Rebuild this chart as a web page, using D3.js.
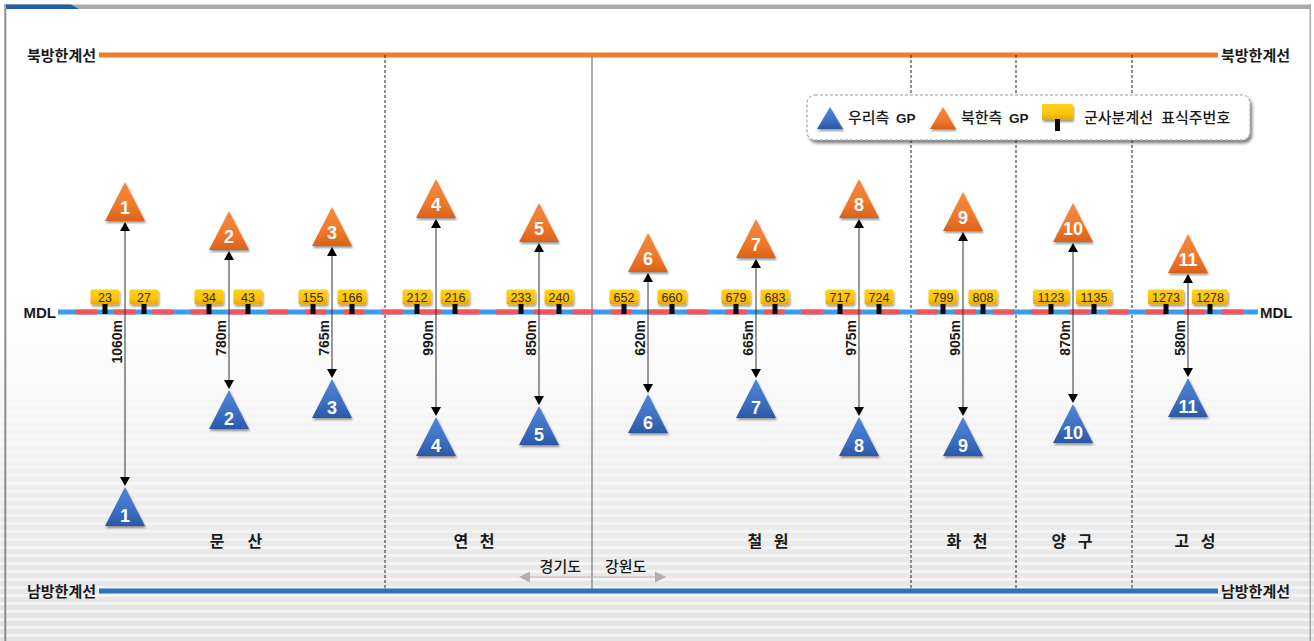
<!DOCTYPE html>
<html lang="ko">
  <head>
    <meta charset="utf-8">
    <script src="https://cdn.jsdelivr.net/npm/d3@7"></script>
    <style>
      html, body { margin: 0; padding: 0; background: #fff; overflow: hidden; }
      svg { display: block; }
      text { font-family: "Noto Sans CJK KR", "Noto Sans", sans-serif; fill: #1a1a1a; }
      .latin { font-family: "Liberation Sans", Arial, sans-serif; }
    </style>
  </head>
  <body>
    <svg id="chart"></svg>
    <script>
      // GP pairs (schematic reach from the MDL, not to scale)
      const gpNumbers = [1, 2, 3, 4, 5, 6, 7, 8, 9, 10, 11];
      const gpAlong = [125, 229, 332, 436, 539, 648, 756, 859, 963, 1073, 1188];
      const gpNorthReach = [91, 62, 66, 94, 70, 40, 54, 94, 81, 70, 39];
      const gpSouthReach = [175, 78, 67, 105, 94, 82, 67, 105, 105, 92, 66];
      const gpDistance = ['1060m', '780m', '765m', '990m', '850m', '620m', '665m', '975m', '905m', '870m', '580m'];

      // MDL marker posts
      const postNumbers = [23, 27, 34, 43, 155, 166, 212, 216, 233, 240, 652, 660, 679, 683, 717, 724, 799, 808, 1123, 1135, 1273, 1278];
      const postAlong = [105, 144, 209, 248, 313, 352, 417, 455, 521, 559, 624, 672, 736, 775, 840, 879, 943, 983, 1051, 1094, 1166, 1210];

      // regions
      const regionNames = ['문  산', '연 천', '철 원', '화 천', '양 구', '고 성'];
      const regionAlong = [236, 474, 768, 967, 1072, 1195];
      const dashedDividers = [385, 911, 1016, 1132];
      const provinceDivider = 592;

      const width = 1314;
      const height = 641;
      const mdlY = 312;
      const triW = 20;
      const triH = 39;

      const x = d3.scaleLinear().domain([0, width]).range([0, width]);
      // positive = north of the MDL, negative = south
      const y = d3.scaleLinear().domain([mdlY, mdlY - height]).range([0, height]);

      const svg = d3.select('#chart').attr('width', width).attr('height', height);
      const defs = svg.append('defs');

      function vGrad(id, stops) {
        const g = defs.append('linearGradient').attr('id', id)
          .attr('x1', 0).attr('y1', 0).attr('x2', 0).attr('y2', 1);
        stops.forEach(s => g.append('stop').attr('offset', s[0]).attr('stop-color', s[1]));
      }
      vGrad('bgGrad', [[0, '#ffffff'], [0.5, '#ffffff'], [0.8, '#ececec'], [1, '#e4e4e4']]);
      vGrad('orangeGrad', [[0, '#f28a3e'], [0.6, '#ee7a2c'], [1, '#dc6118']]);
      vGrad('blueGrad', [[0, '#4f86d6'], [0.6, '#3d6fc2'], [1, '#2c58a6']]);
      vGrad('yellowGrad', [[0, '#ffd11a'], [0.6, '#fcc40a'], [1, '#e8a800']]);

      const shadow = defs.append('filter').attr('id', 'shadow')
        .attr('x', '-20%').attr('y', '-20%').attr('width', '150%').attr('height', '150%');
      shadow.append('feDropShadow').attr('dx', 1).attr('dy', 2).attr('stdDeviation', 1.3)
        .attr('flood-color', '#000').attr('flood-opacity', 0.4);
      const boxShadow = defs.append('filter').attr('id', 'boxShadow')
        .attr('x', '-5%').attr('y', '-20%').attr('width', '110%').attr('height', '150%');
      boxShadow.append('feDropShadow').attr('dx', 2).attr('dy', 3).attr('stdDeviation', 1.6)
        .attr('flood-color', '#000').attr('flood-opacity', 0.5);

      // background with the faint stripes of the slide
      svg.append('rect').attr('width', width).attr('height', height).attr('fill', 'url(#bgGrad)');
      svg.append('g').selectAll('rect')
        .data(d3.range(330, height, 8))
        .join('rect')
        .attr('x', 0).attr('y', d => d).attr('width', width).attr('height', 3)
        .attr('fill', '#fff').attr('opacity', d => 0.15 + 0.45 * (d - 330) / 311);

      // frame
      svg.append('rect').attr('x', 4.3).attr('y', 4).attr('width', 2).attr('height', height - 4).attr('fill', '#8c8c8c');
      svg.append('rect').attr('x', 1309.5).attr('y', 4).attr('width', 1.5).attr('height', height - 4).attr('fill', '#a5a5a5');
      svg.append('rect').attr('x', 5).attr('y', 4.5).attr('width', 1306).attr('height', 4.5).attr('fill', '#ababab');
      svg.append('path').attr('d', 'M6,4.5H71L79,9H6Z').attr('fill', '#1f5fa8');

      // north and south limit lines
      const limits = [
        { label: '북방한계선', at: 55, color: '#f07c2b' },
        { label: '남방한계선', at: 591, color: '#2b74bd' }
      ];
      limits.forEach(l => {
        svg.append('line').attr('x1', 99).attr('x2', 1218).attr('y1', l.at).attr('y2', l.at)
          .attr('stroke', l.color).attr('stroke-width', 5);
        svg.append('text').attr('x', 96).attr('y', l.at + 6).attr('text-anchor', 'end')
          .attr('font-size', 15).attr('font-weight', 700).text(l.label);
        svg.append('text').attr('x', 1221).attr('y', l.at + 6)
          .attr('font-size', 15).attr('font-weight', 700).text(l.label);
      });

      // region dividers
      svg.append('g').selectAll('line')
        .data(dashedDividers)
        .join('line')
        .attr('x1', d => x(d)).attr('x2', d => x(d))
        .attr('y1', 55).attr('y2', 589)
        .attr('stroke', '#222').attr('stroke-width', 1).attr('stroke-dasharray', '3 2');
      svg.append('line').attr('x1', x(provinceDivider)).attr('x2', x(provinceDivider))
        .attr('y1', 55).attr('y2', 589).attr('stroke', '#777').attr('stroke-width', 1.2);

      // MDL band
      svg.append('line').attr('x1', 58).attr('x2', 1258).attr('y1', mdlY).attr('y2', mdlY)
        .attr('stroke', '#3a9bef').attr('stroke-width', 5);
      svg.append('line').attr('x1', 76).attr('x2', 1245).attr('y1', mdlY).attr('y2', mdlY)
        .attr('stroke', '#f6535a').attr('stroke-width', 5).attr('stroke-dasharray', '21 17.2');
      svg.append('text').attr('class', 'latin').attr('x', 56).attr('y', mdlY + 6).attr('text-anchor', 'end')
        .attr('font-size', 15).attr('font-weight', 700).text('MDL');
      svg.append('text').attr('class', 'latin').attr('x', 1260).attr('y', mdlY + 6)
        .attr('font-size', 15).attr('font-weight', 700).text('MDL');

      // marker posts
      const posts = svg.append('g').selectAll('g')
        .data(postNumbers)
        .join('g');
      posts.append('rect')
        .attr('x', (d, i) => x(postAlong[i]) - (d > 999 ? 18 : 14.5))
        .attr('y', 289.5).attr('width', d => d > 999 ? 36 : 29).attr('height', 15).attr('rx', 2)
        .attr('fill', 'url(#yellowGrad)').attr('filter', 'url(#shadow)');
      posts.append('rect')
        .attr('x', (d, i) => x(postAlong[i]) - 2.5)
        .attr('y', 304).attr('width', 5).attr('height', 10).attr('fill', '#0a0a0a');
      posts.append('text').attr('class', 'latin')
        .attr('x', (d, i) => x(postAlong[i])).attr('y', 302)
        .attr('text-anchor', 'middle').attr('font-size', 12.5)
        .style('fill', '#3a2a00')
        .text(d => d);

      function triPath(cx, apex, w, h) {
        return `M${cx},${apex}L${cx + w},${apex + h}L${cx - w},${apex + h}Z`;
      }
      function headPath(cx, tip, dir) {
        return `M${cx},${tip}L${cx + 5},${tip + dir * 9}L${cx - 5},${tip + dir * 9}Z`;
      }

      // GP pairs with the distance arrows
      const pairs = svg.append('g').selectAll('g')
        .data(gpNumbers)
        .join('g');

      pairs.each(function (d, i) {
        const g = d3.select(this);
        const cx = x(gpAlong[i]);
        const northBase = y(gpNorthReach[i]);
        const southApex = y(-gpSouthReach[i]);

        g.append('path').attr('d', triPath(cx, northBase - triH, triW, triH))
          .attr('fill', 'url(#orangeGrad)').attr('filter', 'url(#shadow)');
        g.append('path').attr('d', triPath(cx, southApex, triW, triH))
          .attr('fill', 'url(#blueGrad)').attr('filter', 'url(#shadow)');

        g.append('line').attr('x1', cx).attr('x2', cx)
          .attr('y1', northBase + 8).attr('y2', southApex - 8)
          .attr('stroke', '#333').attr('stroke-width', 1);
        g.append('path').attr('d', headPath(cx, northBase + 1, 1)).attr('fill', '#000');
        g.append('path').attr('d', headPath(cx, southApex - 1, -1)).attr('fill', '#000');

        g.append('text').attr('class', 'latin')
          .attr('x', cx).attr('y', northBase - 7.5)
          .attr('text-anchor', 'middle').attr('font-size', 18).attr('font-weight', 700)
          .style('fill', '#fff').text(d);
        g.append('text').attr('class', 'latin')
          .attr('x', cx).attr('y', southApex + 34.5)
          .attr('text-anchor', 'middle').attr('font-size', 18).attr('font-weight', 700)
          .style('fill', '#fff').text(d);

        g.append('text').attr('class', 'latin')
          .attr('transform', `translate(${cx - 3.5},${y(-8)}) rotate(-90)`)
          .attr('text-anchor', 'end').attr('font-size', 14).attr('font-weight', 700)
          .text(gpDistance[i]);
      });

      // region names
      svg.append('g').selectAll('text')
        .data(regionNames)
        .join('text')
        .attr('x', (d, i) => x(regionAlong[i])).attr('y', 547)
        .attr('text-anchor', 'middle').attr('font-size', 16).attr('font-weight', 700)
        .attr('word-spacing', 7)
        .style('white-space', 'pre')
        .text(d => d);

      // province arrows
      svg.append('text').attr('x', 581).attr('y', 572).attr('text-anchor', 'end')
        .attr('font-size', 15).attr('font-weight', 500).text('경기도');
      svg.append('text').attr('x', 605).attr('y', 572)
        .attr('font-size', 15).attr('font-weight', 500).text('강원도');
      svg.append('line').attr('x1', 528).attr('x2', 658).attr('y1', 577).attr('y2', 577)
        .attr('stroke', '#b5b5b5').attr('stroke-width', 1.2);
      svg.append('path').attr('d', 'M519,577L530,571.5V582.5Z').attr('fill', '#b0b0b0');
      svg.append('path').attr('d', 'M666,577L655,571.5V582.5Z').attr('fill', '#b0b0b0');

      // legend
      const legend = svg.append('g');
      legend.append('rect').attr('x', 807).attr('y', 95).attr('width', 443).attr('height', 45).attr('rx', 8)
        .attr('fill', '#fff').attr('stroke', '#999').attr('stroke-width', 1).attr('stroke-dasharray', '3 2')
        .attr('filter', 'url(#boxShadow)');
      legend.append('path').attr('d', triPath(830, 107, 13, 22)).attr('fill', 'url(#blueGrad)').attr('filter', 'url(#shadow)');
      legend.append('text').attr('x', 848).attr('y', 123).attr('font-size', 15).attr('font-weight', 500).text('우리측');
      legend.append('text').attr('class', 'latin').attr('x', 896).attr('y', 123).attr('font-size', 13.5).attr('font-weight', 700).text('GP');
      legend.append('path').attr('d', triPath(943, 107, 13, 22)).attr('fill', 'url(#orangeGrad)').attr('filter', 'url(#shadow)');
      legend.append('text').attr('x', 961).attr('y', 123).attr('font-size', 15).attr('font-weight', 500).text('북한측');
      legend.append('text').attr('class', 'latin').attr('x', 1009).attr('y', 123).attr('font-size', 13.5).attr('font-weight', 700).text('GP');
      legend.append('rect').attr('x', 1042).attr('y', 104).attr('width', 31).attr('height', 16).attr('rx', 1)
        .attr('fill', 'url(#yellowGrad)').attr('filter', 'url(#shadow)');
      legend.append('rect').attr('x', 1055).attr('y', 119).attr('width', 5).attr('height', 12).attr('fill', '#0a0a0a');
      legend.append('text').attr('x', 1084).attr('y', 123).attr('font-size', 15).attr('font-weight', 500)
        .attr('word-spacing', 4).text('군사분계선 표식주번호');
    </script>
  </body>
</html>
